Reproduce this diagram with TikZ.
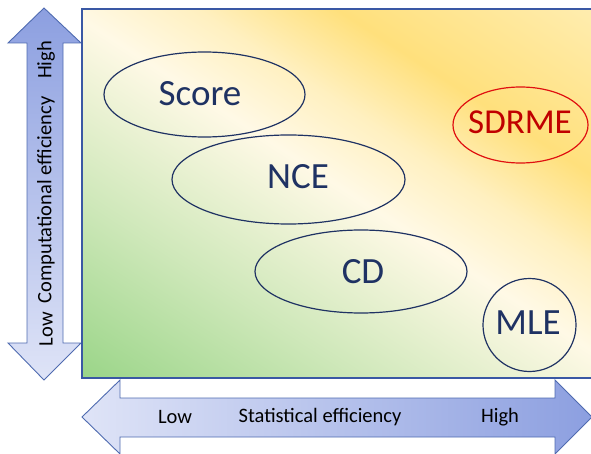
\documentclass[tikz,border=0pt]{standalone}
\usepackage{fontspec}
\setmainfont{Carlito}
\usetikzlibrary{shapes.geometric}

\definecolor{arrowdark}{HTML}{8C9FE0}
\definecolor{arrowlight}{HTML}{DFE4F7}
\definecolor{arrowedge}{HTML}{4F6BB0}
\definecolor{frameblue}{HTML}{3A58A4}
\definecolor{methodblue}{HTML}{1F3263}
\definecolor{methodred}{HTML}{C00000}
\definecolor{rededge}{HTML}{E01010}

% wash of the plane along its diagonal: green (low/low) over cream to yellow (high/high);
% the shaded band spans 25bp..75bp
\pgfdeclarehorizontalshading{planeshade}{100bp}{%
  color(0bp)=(rgb,255:red,154;green,213;blue,136);
  color(25bp)=(rgb,255:red,154;green,213;blue,136);
  color(38bp)=(rgb,255:red,207;green,232;blue,186);
  color(50.5bp)=(rgb,255:red,255;green,249;blue,230);
  color(56.5bp)=(rgb,255:red,255;green,240;blue,192);
  color(63bp)=(rgb,255:red,255;green,224;blue,124);
  color(75bp)=(rgb,255:red,255;green,237;blue,176);
  color(100bp)=(rgb,255:red,255;green,237;blue,176)}

\tikzset{
  axisarrow/.style={draw=arrowedge, line width=0.9pt, line join=miter},
  axislabel/.style={font=\fontsize{20.5}{24}\selectfont, text=black, inner sep=0pt},
  method/.style={ellipse, draw=methodblue, line width=1.2pt, inner sep=0pt},
  bestmethod/.style={method, draw=rededge},
  methodtext/.style={text=methodblue, inner sep=0pt, font=\fontsize{37}{44}\selectfont},
  besttext/.style={text=methodred, inner sep=0pt, font=\fontsize{35}{42}\selectfont},
}

\begin{document}
\begin{tikzpicture}[x=1pt, y=-1pt]
  \useasboundingbox (0,0) rectangle (591,454);
  \clip (0,0) rectangle (591,454);

  % vertical axis arrow (computational efficiency)
  \path[axisarrow, top color=arrowdark, bottom color=arrowlight]
    (44,8) -- (81,43) -- (63,43) -- (63,343) -- (81,343) -- (44,380)
    -- (8,343) -- (27,343) -- (27,43) -- (8,43) -- cycle;

  % horizontal axis arrow (statistical efficiency)
  \path[axisarrow, left color=arrowlight, right color=arrowdark]
    (82,417) -- (120,380) -- (120,398) -- (555,398) -- (555,380) -- (592,417)
    -- (555,454) -- (555,437) -- (120,437) -- (120,454) -- cycle;

  % efficiency plane: shading turned so its bands run along the diagonal
  \begin{scope}
    \clip (82,9) rectangle (596,378);
    \begin{scope}[transform canvas={shift={(339,193.5)}, rotate=57}]
      \shade[shading=planeshade] (-295,-335) rectangle (295,335);
    \end{scope}
  \end{scope}
  \draw[frameblue, line width=1.2pt] (82,9) rectangle (596,378);

  % axis labels
  \node[axislabel, rotate=90] (clow)  at (46,329) {Low};
  \node[axislabel, rotate=90] (ctext) at (46,200) {Computational efficiency};
  \node[axislabel, rotate=90] (chigh) at (46,60)  {High};
  \node[axislabel] (slow)  at (175,417) {Low};
  \node[axislabel] (stext) at (320,417) {Statistical efficiency};
  \node[axislabel] (shigh) at (500,417) {High};

  % estimation methods
  \node[method, minimum width=201pt, minimum height=85pt] (score) at (204.5,94.5) {};
  \node[methodtext] (scoret) at (200,94) {Score};
  \node[method, minimum width=233pt, minimum height=89pt] (nce) at (288.5,179.5) {};
  \node[methodtext] (ncet) at (298,177) {NCE};
  \node[method, minimum width=212pt, minimum height=83pt] (cd) at (361,271.5) {};
  \node[methodtext] (cdt) at (363,272) {CD};
  \node[bestmethod, minimum width=135pt, minimum height=76pt] (sdrme) at (520.5,125) {};
  \node[besttext] (sdrmet) at (520,122) {SDRME};
  \node[method, circle, minimum size=93pt] (mle) at (529.5,325) {};
  \node[methodtext] (mlet) at (528,323) {MLE};
\end{tikzpicture}
\end{document}
